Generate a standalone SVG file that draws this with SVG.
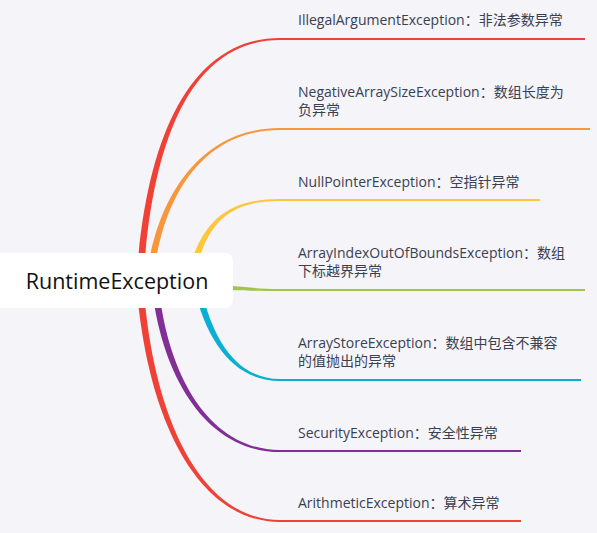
<svg xmlns="http://www.w3.org/2000/svg" width="597" height="533" viewBox="0 0 597 533">
<style>
.t{font-family:"Open Sans","Noto Sans","Noto Sans CJK SC",sans-serif;font-size:14px;fill:#3a4050}
.r{font-family:"Open Sans","Noto Sans",sans-serif;font-size:21.5px;fill:#111}
.ln{fill:none;stroke-width:2}
</style>
<rect width="597" height="533" fill="#f4f4f9"/>
<g id="connectors">
<path d="M136.5 280 C147 120 199 38 280 38 L280 40 C201 40 153 120 143.5 280 Z" fill="#ef4136"/>
<line class="ln" x1="279" y1="39" x2="585" y2="39" stroke="#ef4136"/>
<path d="M146.5 280 C155 200 199 128 280 128 L280 130 C201 130 161 200 153.5 280 Z" fill="#f7963a"/>
<line class="ln" x1="279" y1="129" x2="590" y2="129" stroke="#f7963a"/>
<path d="M188.5 272 C202 220 229 199 280 199 L280 201 C231 201 208 220 195.5 272 Z" fill="#fcc73c"/>
<line class="ln" x1="279" y1="200" x2="540" y2="200" stroke="#fcc73c"/>
<path d="M200 285 C240 285 250 289 280 289 L280 291 C250 291 240 290 200 290 Z" fill="#a2c44b"/>
<line class="ln" x1="279" y1="290" x2="585" y2="290" stroke="#a2c44b"/>
<path d="M194.5 290 C207 340 233 381 280 381 L280 379 C237 379 213 340 201.5 290 Z" fill="#0aafd1"/>
<line class="ln" x1="279" y1="380" x2="581" y2="380" stroke="#0aafd1"/>
<path d="M151.5 285 C162 380 208 452 280 452 L280 450 C212 450 168 380 158.5 285 Z" fill="#812f96"/>
<line class="ln" x1="279" y1="451" x2="521" y2="451" stroke="#812f96"/>
<path d="M136.5 285 C147 420 198 522 280 522 L280 520 C202 520 153 420 143.5 285 Z" fill="#ef4136"/>
<line class="ln" x1="279" y1="521" x2="521" y2="521" stroke="#ef4136"/>
</g>
<g id="root">
<rect x="-8" y="253" width="241" height="55" rx="8" fill="#ffffff"/>
<text class="r" x="117" y="288.5" text-anchor="middle">RuntimeException</text>
</g>
<g id="n1"><text class="t" x="298" y="24.5">IllegalArgumentException：非法参数异常</text></g>
<g id="n2"><text class="t" x="298" y="96.5">NegativeArraySizeException：数组长度为</text><text class="t" x="298" y="114.5">负异常</text></g>
<g id="n3"><text class="t" x="298" y="186.5">NullPointerException：空指针异常</text></g>
<g id="n4"><text class="t" x="298" y="257.5">ArrayIndexOutOfBoundsException：数组</text><text class="t" x="298" y="275.5">下标越界异常</text></g>
<g id="n5"><text class="t" x="298" y="347.5">ArrayStoreException：数组中包含不兼容</text><text class="t" x="298" y="365.5">的值抛出的异常</text></g>
<g id="n6"><text class="t" x="298" y="437.5">SecurityException：安全性异常</text></g>
<g id="n7"><text class="t" x="298" y="507.5">ArithmeticException：算术异常</text></g>
</svg>
